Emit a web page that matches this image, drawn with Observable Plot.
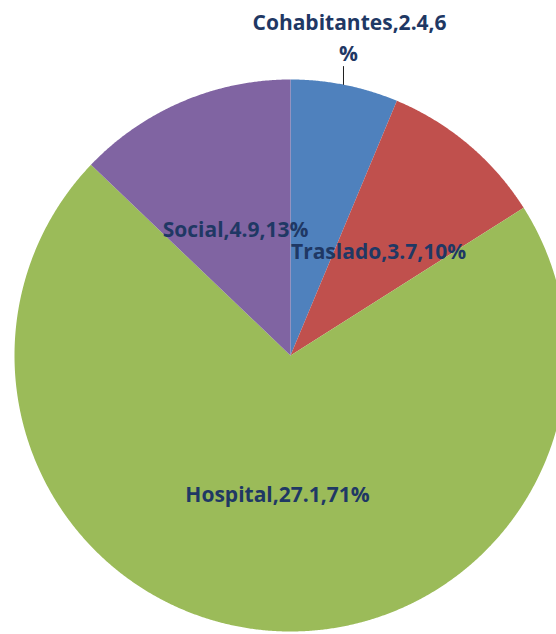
<!DOCTYPE html>
<html>
<head>
<meta charset="utf-8">
<script src="https://cdn.jsdelivr.net/npm/d3@7"></script>
<script src="https://cdn.jsdelivr.net/npm/@observablehq/plot@0.6"></script>
<style>
  html, body { margin: 0; padding: 0; background: #fff; overflow: hidden; }
  #chart svg { display: block; max-width: none; }
</style>
</head>
<body>
<div id="chart"></div>
<script>
// Data
const categories = ["Cohabitantes", "Traslado", "Hospital", "Social"];
const values = [2.4, 3.7, 27.1, 4.9];
const percents = ["6%", "10%", "71%", "13%"];
const colors = ["#4F81BD", "#C0504D", "#9BBB59", "#8064A2"];

// Label placement (data units, pie radius = 1)
const labelPos = [[0.214, 1.203], [0.319, 0.373], [-0.047, -0.507], [-0.199, 0.453]];

const pie = d3.pie().sort(null).value(d => d.value)(
  categories.map((name, i) => ({name, value: values[i]}))
);

// Build slice outlines from pie angles (clockwise from top)
const slicePts = [];
pie.forEach(s => {
  const name = s.data.name;
  slicePts.push({name, x: 0, y: 0});
  const n = Math.max(2, Math.ceil((s.endAngle - s.startAngle) / 0.005));
  for (let k = 0; k <= n; k++) {
    const a = s.startAngle + (s.endAngle - s.startAngle) * k / n;
    slicePts.push({name, x: Math.sin(a), y: Math.cos(a)});
  }
  slicePts.push({name, x: 0, y: 0});
});

const labels = categories.map((name, i) => {
  let text = `${name},${values[i]},${percents[i]}`;
  return {name, text, x: labelPos[i][0], y: labelPos[i][1]};
});
// Cohabitantes label wraps: "%" on a second line
labels[0].text = `${categories[0]},${values[0]},${percents[0].replace("%", "")}`;
const extra = [{text: "%", x: 0.210, y: 1.091}];
const leader = [{x: 0.192, y: 1.047}, {x: 0.192, y: 0.982}];

const plot = Plot.plot({
  width: 556,
  height: 634,
  margin: 0,
  x: {domain: [-1, 1], range: [14, 566], axis: null},
  y: {domain: [-1, 1], range: [631, 79], axis: null},
  color: {domain: categories, range: colors},
  style: {background: "white", overflow: "hidden"},
  marks: [
    Plot.line(slicePts, {x: "x", y: "y", z: "name", fill: "name", stroke: "none", curve: "linear"}),
    Plot.line(leader, {x: "x", y: "y", stroke: "#1F1F1F", strokeWidth: 1}),
    Plot.text(labels, {x: "x", y: "y", text: "text", fill: "#1F3864", fontWeight: "bold",
      fontSize: 21, fontFamily: "Open Sans", textAnchor: "middle"}),
    Plot.text(extra, {x: "x", y: "y", text: "text", fill: "#1F3864", fontWeight: "bold",
      fontSize: 21, fontFamily: "Open Sans", textAnchor: "middle"})
  ]
});
document.getElementById("chart").appendChild(plot);
</script>
</body>
</html>
